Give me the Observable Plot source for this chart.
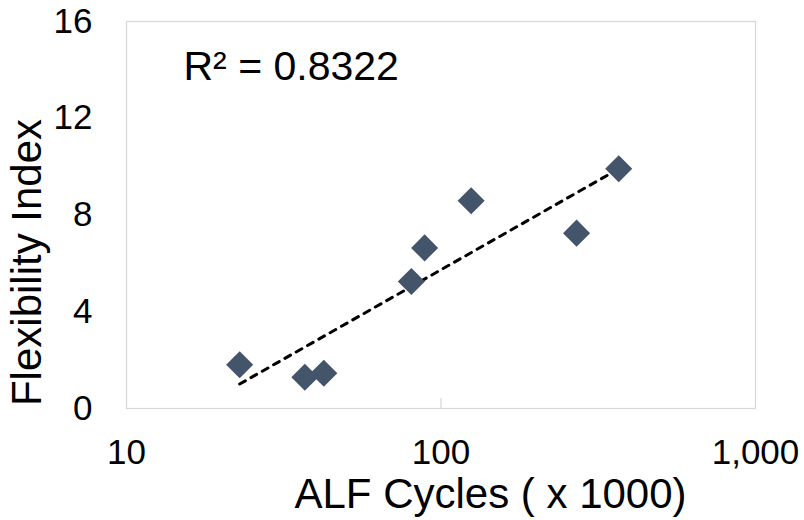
<!DOCTYPE html>
<html>
<head>
<meta charset="utf-8">
<script src="https://cdn.jsdelivr.net/npm/d3@7"></script>
<script src="https://cdn.jsdelivr.net/npm/@observablehq/plot@0.6"></script>
<style>
  html, body { margin: 0; padding: 0; background: #fff; }
</style>
</head>
<body>
<div id="chart"></div>
<script>
// Data
const alfCycles = [22.9, 36.9, 42.4, 80.5, 88.7, 124.7, 269.8, 367.4];   // x 1000
const flexIndex = [1.81, 1.29, 1.46, 5.25, 6.64, 8.59, 7.25, 9.91];
const xTicks = [10, 100, 1000];
const yTicks = [0, 4, 8, 12, 16];
const r2Label = "R² = 0.8322";
const xTitle = "ALF Cycles ( x 1000)";
const yTitle = "Flexibility Index";

const points = alfCycles.map((x, i) => ({x, y: flexIndex[i]}));

// Logarithmic trendline (least squares on log10 x), like the spreadsheet trendline
const lx = alfCycles.map(Math.log10);
const mx = d3.mean(lx), my = d3.mean(flexIndex);
const sxy = d3.sum(lx, (v, i) => (v - mx) * (flexIndex[i] - my));
const sxx = d3.sum(lx, v => (v - mx) ** 2);
const slope = sxy / sxx, intercept = my - slope * mx;
const xr = d3.extent(alfCycles);
const trend = xr.map(x => ({x, y: intercept + slope * Math.log10(x)}));

const font = "'Liberation Sans', Arial, Helvetica, sans-serif";

const chart = Plot.plot({
  width: 804,
  height: 520,
  marginLeft: 126,
  marginRight: 49,
  marginTop: 21,
  marginBottom: 112,
  style: {fontFamily: font, color: "#000", background: "#fff"},
  x: {type: "log", domain: [10, 1000]},
  y: {domain: [0, 16]},
  marks: [
    Plot.frame({stroke: "#d9d9d9", strokeWidth: 1.3}),
    Plot.tickX([100], {stroke: "#d9d9d9", strokeWidth: 1.3, insetTop: 377}),
    Plot.axisX({ticks: xTicks, tickFormat: d3.format(","), tickSize: 0, tickPadding: 31, fontSize: 35, label: null}),
    Plot.axisY({ticks: yTicks, tickSize: 0, tickPadding: 34, fontSize: 35, label: null}),
    Plot.line(trend, {x: "x", y: "y", stroke: "#000", strokeWidth: 3, strokeDasharray: "6.5,6.5", strokeLinecap: "round"}),
    Plot.dot(points, {x: "x", y: "y", symbol: "diamond2", r: 12.2, fill: "#44546a", stroke: "none"}),
    Plot.text([r2Label], {frameAnchor: "top-left", text: d => d, dx: 57, dy: 29, lineAnchor: "top", textAnchor: "start", fontSize: 41, fill: "#000"}),
    Plot.text([xTitle], {frameAnchor: "bottom", text: d => d, dx: 49.5, dy: 70, lineAnchor: "top", textAnchor: "middle", fontSize: 42, fill: "#000"}),
    Plot.text([yTitle], {frameAnchor: "left", text: d => d, dx: -98.5, dy: 47.5, rotate: -90, lineAnchor: "middle", textAnchor: "middle", fontSize: 42, fill: "#000"})
  ]
});
document.getElementById("chart").appendChild(chart);
</script>
</body>
</html>
